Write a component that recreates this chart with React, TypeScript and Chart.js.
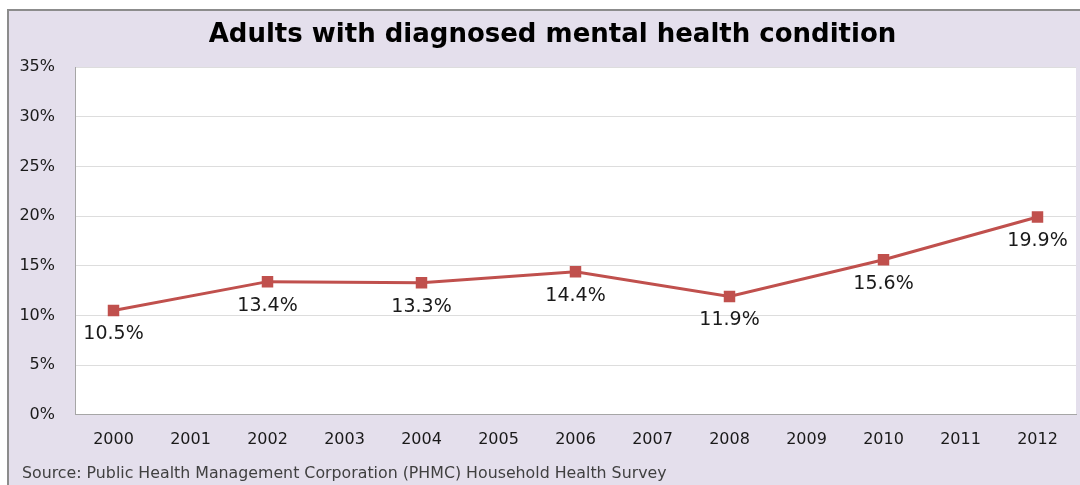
import React, { useEffect, useRef } from "react";
import { Chart, registerables } from "chart.js";

Chart.register(...registerables);

const years = ["2000","2001","2002","2003","2004","2005","2006","2007","2008","2009","2010","2011","2012"];
const rates: (number | null)[] = [10.5, null, 13.4, null, 13.3, null, 14.4, null, 11.9, null, 15.6, null, 19.9];
const titleText = "Adults with diagnosed mental health condition";
const sourceText = "Source: Public Health Management Corporation (PHMC) Household Health Survey";

const FONT = "'DejaVu Sans', Verdana, sans-serif";

const plotBgPlugin = {
  id: "plotBg",
  beforeDraw(chart: any) {
    const { ctx, chartArea } = chart;
    ctx.save();
    ctx.fillStyle = "#FFFFFF";
    ctx.fillRect(chartArea.left, chartArea.top, chartArea.right - chartArea.left, chartArea.bottom - chartArea.top);
    ctx.restore();
  },
};

const labelPlugin = {
  id: "valueLabels",
  afterDatasetsDraw(chart: any) {
    const ctx = chart.ctx;
    const meta = chart.getDatasetMeta(0);
    ctx.save();
    ctx.font = `19px ${FONT}`;
    ctx.fillStyle = "#1a1a1a";
    ctx.textAlign = "center";
    ctx.textBaseline = "middle";
    meta.data.forEach((pt: any, i: number) => {
      const v = rates[i];
      if (v == null) return;
      ctx.fillText(v.toFixed(1) + "%", pt.x, pt.y + 24);
    });
    ctx.restore();
  },
};

const textPlugin = {
  id: "titleAndSource",
  afterDraw(chart: any) {
    const ctx = chart.ctx;
    ctx.save();
    ctx.textBaseline = "middle";
    ctx.font = `bold 26px ${FONT}`;
    ctx.fillStyle = "#000000";
    ctx.textAlign = "center";
    ctx.fillText(titleText, 543.5, 24.5);
    ctx.font = `15.8px ${FONT}`;
    ctx.fillStyle = "#404040";
    ctx.textAlign = "left";
    ctx.fillText(sourceText, 13, 463);
    ctx.restore();
  },
};

export default function App() {
  const ref = useRef<HTMLCanvasElement>(null);
  useEffect(() => {
    if (!ref.current) return;
    const chart = new Chart(ref.current, {
      type: "line",
      data: {
        labels: years,
        datasets: [
          {
            data: rates,
            borderColor: "#C0504D",
            backgroundColor: "#C0504D",
            borderWidth: 3,
            pointStyle: "rect",
            pointRadius: 6,
            pointHoverRadius: 6,
            spanGaps: true,
            tension: 0,
          },
        ],
      },
      options: {
        animation: false,
        responsive: true,
        maintainAspectRatio: false,
        layout: { padding: { top: 56, left: 0, right: 39, bottom: 37 } },
        plugins: {
          legend: { display: false },
          tooltip: { enabled: false },
          title: { display: false },
        },
        scales: {
          x: {
            offset: true,
            grid: { display: false, drawTicks: false },
            border: { display: true, color: "#A6A6A6", width: 1 },
            ticks: {
              color: "#1a1a1a",
              font: { family: FONT, size: 16 },
              padding: 15,
              maxRotation: 0,
              autoSkip: false,
            },
          },
          y: {
            min: 0,
            max: 35,
            afterFit(scale: any) {
              scale.width = 66;
            },
            grid: { color: "#DDDDDD", lineWidth: 1, drawTicks: false },
            border: { display: true, color: "#A6A6A6", width: 1 },
            ticks: {
              stepSize: 5,
              color: "#1a1a1a",
              font: { family: FONT, size: 16 },
              padding: 20,
              callback: (v: any) => v + "%",
            },
          },
        },
      },
      plugins: [plotBgPlugin, labelPlugin, textPlugin],
    });
    return () => chart.destroy();
  }, []);

  return (
    <div style={{ position: "fixed", left: 0, top: 0, width: 1080, height: 485, overflow: "hidden", background: "#ffffff" }}>
      <div
        style={{
          position: "absolute",
          left: 7,
          top: 9,
          width: 1106,
          height: 490,
          borderLeft: "2px solid #8C8C8C",
          borderTop: "2px solid #8C8C8C",
          background: "#E4DFEC",
        }}
      >
        <div style={{ position: "relative", width: 1106, height: 490 }}>
          <canvas ref={ref} />
        </div>
      </div>
    </div>
  );
}
